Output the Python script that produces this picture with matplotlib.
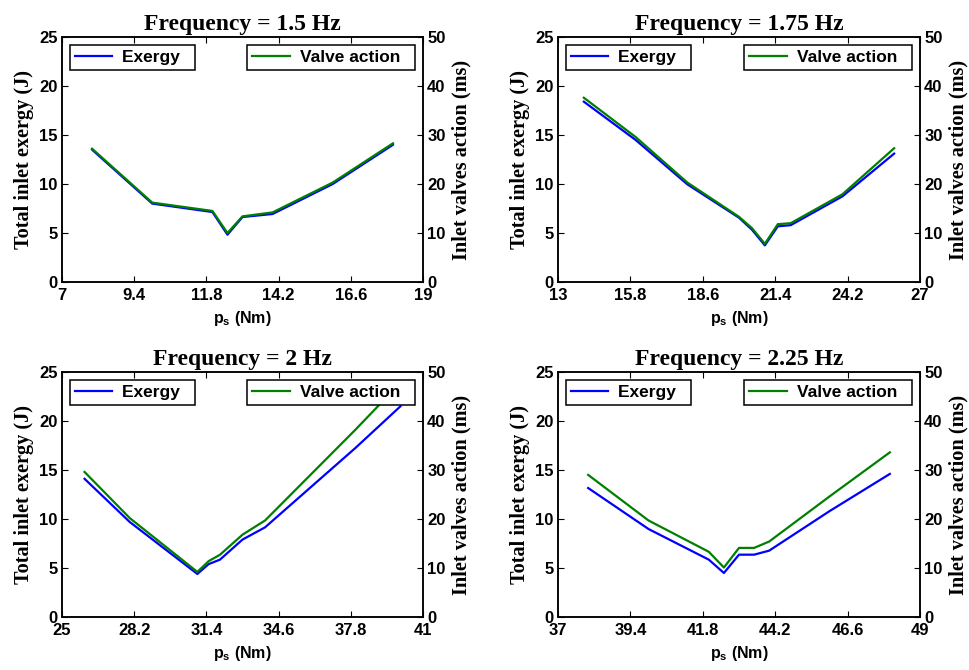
import matplotlib
matplotlib.use("Agg")
import matplotlib.pyplot as plt
from matplotlib.legend_handler import HandlerLine2D

plt.rcParams["mathtext.fontset"] = "custom"
plt.rcParams["mathtext.rm"] = "Liberation Sans:bold"
plt.rcParams["mathtext.bf"] = "Liberation Sans:bold"
plt.rcParams["mathtext.it"] = "Liberation Sans:bold"

# Supply pressure sweeps (Nm) and results for each actuation frequency
titles = ["Frequency = 1.5 Hz", "Frequency = 1.75 Hz", "Frequency = 2 Hz", "Frequency = 2.25 Hz"]

ps_15 = [8, 10, 12, 12.5, 13, 14, 16, 18]
exergy_15 = [13.5, 8.0, 7.14, 4.83, 6.63, 6.94, 10.0, 14.0]
valve_15 = [27.2, 16.2, 14.5, 10.0, 13.4, 14.2, 20.3, 28.3]

ps_175 = [14, 16, 18, 20, 20.5, 21, 21.5, 22, 24, 26]
exergy_175 = [18.4, 14.5, 9.97, 6.56, 5.34, 3.74, 5.68, 5.8, 8.74, 13.1]
valve_175 = [37.6, 29.6, 20.3, 13.3, 11.0, 7.8, 11.8, 12.0, 17.9, 27.3]

ps_20 = [26, 28, 31, 31.5, 32, 33, 34, 38, 40]
exergy_20 = [14.1, 9.7, 4.39, 5.4, 5.85, 7.9, 9.15, 17.24, 21.5]
valve_20 = [29.6, 20.2, 9.2, 11.4, 12.7, 16.8, 19.7, 38.2, 47.8]

ps_225 = [38, 40, 42, 42.5, 43, 43.5, 44, 46, 48]
exergy_225 = [13.16, 8.98, 5.85, 4.49, 6.36, 6.36, 6.77, 10.8, 14.6]
valve_225 = [29.0, 19.7, 13.3, 10.1, 14.1, 14.1, 15.4, 24.6, 33.6]

x_ranges = [(7, 19), (13, 27), (25, 41), (37, 49)]
x_ticks = [
    [7, 9.4, 11.8, 14.2, 16.6, 19],
    [13, 15.8, 18.6, 21.4, 24.2, 27],
    [25, 28.2, 31.4, 34.6, 37.8, 41],
    [37, 39.4, 41.8, 44.2, 46.6, 49],
]
x_ticklabels = [
    ["7", "9.4", "11.8", "14.2", "16.6", "19"],
    ["13", "15.8", "18.6", "21.4", "24.2", "27"],
    ["25", "28.2", "31.4", "34.6", "37.8", "41"],
    ["37", "39.4", "41.8", "44.2", "46.6", "49"],
]
exergy_ticks = [0, 5, 10, 15, 20, 25]
valve_ticks = [0, 10, 20, 30, 40, 50]

series = [
    (ps_15, exergy_15, valve_15),
    (ps_175, exergy_175, valve_175),
    (ps_20, exergy_20, valve_20),
    (ps_225, exergy_225, valve_225),
]


class InsetLine(HandlerLine2D):
    """Legend line that leaves a small gap before the sample line."""

    def __init__(self, gap=0.37, **kw):
        super().__init__(**kw)
        self.gap = gap

    def create_artists(self, legend, orig_handle, xdescent, ydescent,
                       width, height, fontsize, trans):
        arts = super().create_artists(legend, orig_handle, xdescent, ydescent,
                                      width, height, fontsize, trans)
        x0 = -xdescent + self.gap * fontsize
        x1 = -xdescent + width
        for a in arts:
            y = a.get_ydata()
            if len(y) == 2:
                a.set_xdata([x0, x1])
        return arts


W, H = 969, 670
fig = plt.figure(figsize=(W / 100, H / 100), dpi=100)

# axes boxes in pixels: left, top, right, bottom
boxes = [
    (62, 37, 423, 282),
    (558, 37, 920, 282),
    (62, 372, 423, 617),
    (558, 372, 920, 617),
]

serif = ["Liberation Serif", "DejaVu Serif"]
sans = ["Liberation Sans", "DejaVu Sans"]
tick_fs = 12
blue = (0, 0, 1)
green = (0, 0.5, 0)

for i, (l, t, r, b) in enumerate(boxes):
    ax = fig.add_axes([l / W, 1 - b / H, (r - l) / W, (b - t) / H])
    ax2 = ax.twinx()
    x, ex, va = series[i]
    h1, = ax.plot(x, ex, color=blue, lw=1.6, label="Exergy")
    h2, = ax2.plot(x, va, color=green, lw=1.6, label="Valve action")

    ax.set_xlim(*x_ranges[i])
    ax.set_ylim(0, 25)
    ax2.set_ylim(0, 50)
    ax.set_xticks(x_ticks[i])
    ax.set_xticklabels(x_ticklabels[i])
    ax.set_yticks(exergy_ticks)
    ax2.set_yticks(valve_ticks)

    for a in (ax, ax2):
        for s in a.spines.values():
            s.set_linewidth(1.1)
            s.set_color("black")
    ax.tick_params(axis="both", direction="in", length=4, width=0.8, top=True,
                   labelsize=tick_fs)
    ax.tick_params(axis="x", pad=4)
    ax.tick_params(axis="y", pad=3)
    ax2.tick_params(axis="y", direction="in", length=4, width=0.8,
                    labelsize=tick_fs, pad=3)
    for lab in ax.get_xticklabels() + ax.get_yticklabels() + ax2.get_yticklabels():
        lab.set_fontfamily(sans)
        lab.set_fontweight("bold")

    ax.set_title(titles[i], fontfamily=serif, fontweight="bold", fontsize=17, pad=5)
    ax.set_xlabel(r"$\mathbf{p_s}$ (Nm)", fontfamily=sans, fontweight="bold",
                  fontsize=11.5, labelpad=4.5)
    ax.set_ylabel("Total inlet exergy (J)", fontfamily=serif, fontweight="bold",
                  fontsize=14.6, labelpad=4)
    ax2.set_ylabel("Inlet valves action (ms)", fontfamily=serif, fontweight="bold",
                   fontsize=14.6, labelpad=4)

    leg_kw = dict(frameon=True, fancybox=False, edgecolor="black", framealpha=1,
                  prop={"family": sans, "weight": "bold", "size": 12.5},
                  handlelength=2.15, borderaxespad=0.45, borderpad=0.3,
                  handletextpad=0.58, handler_map={matplotlib.lines.Line2D: InsetLine()})
    leg1 = ax2.legend([h1], ["Exergy  "], loc="upper left", **leg_kw)
    leg1.get_frame().set_linewidth(1.1)
    ax2.add_artist(leg1)
    leg2 = ax2.legend([h2], ["Valve action  "], loc="upper right", **leg_kw)
    leg2.get_frame().set_linewidth(1.1)

fig.savefig("out.png", dpi=100)
